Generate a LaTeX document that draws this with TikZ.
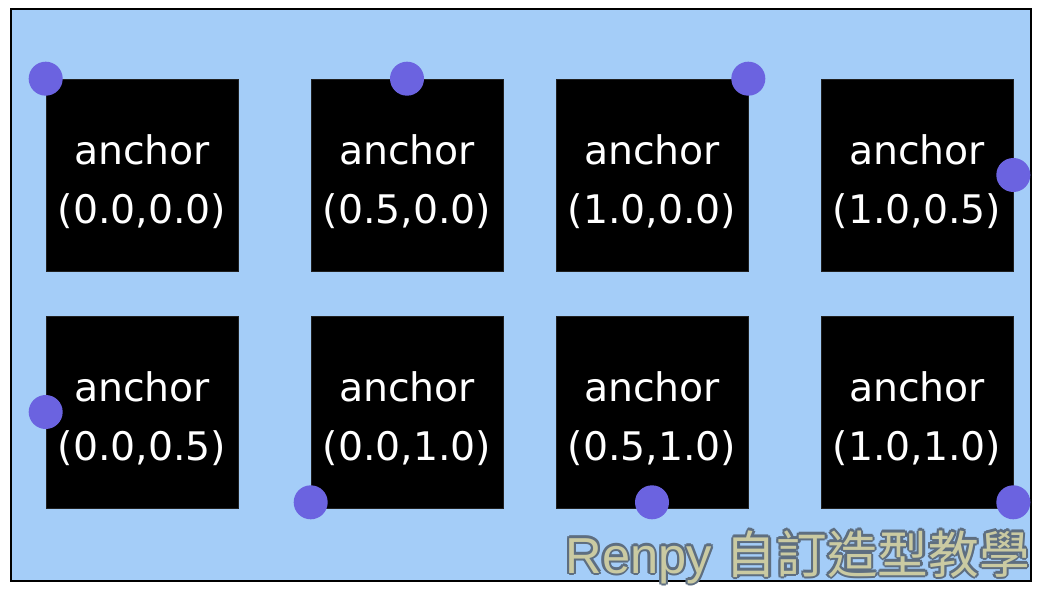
\documentclass[tikz,border=0pt]{standalone}
\usepackage{fontspec}
\usepackage{tikz}
\usepackage{xcolor}
\usetikzlibrary{calc}
\setmainfont{Liberation Sans}
\newfontfamily\boxfont{DejaVu Sans}
\newfontfamily\cjkfont{Noto Sans CJK TC}
\definecolor{bgblue}{HTML}{A4CDF8}
\definecolor{dotpurple}{HTML}{6B63E0}
\definecolor{markfill}{HTML}{CACAA2}
\definecolor{markline}{HTML}{5E6E80}
\newcommand\anctext[1]{\rule{0pt}{1.08cm}anchor\\#1}

\begin{document}
\begin{tikzpicture}[x=0.025cm,y=-0.025cm]
        \tikzstyle{sq}=[fill=black,draw=black!75!gray,minimum size=4.8cm,inner sep=0pt,
                        text=white,align=center,font=\boxfont\fontsize{28}{41.3}\selectfont]
        \tikzstyle{dot}=[fill=dotpurple,circle,minimum size=0.85cm,inner sep=0pt]
        \tikzstyle{wmark}=[anchor=base east,font=\fontsize{36}{40}\selectfont,inner sep=0pt]
        \useasboundingbox (0,0) rectangle (1043,596);
        \draw[fill=bgblue,line width=1.8pt] (11,9) rectangle (1031,581);

        \node[sq] (11) at (142,175) {\anctext{(0.0,0.0)}};
        \node[sq] (12) at (407,175) {\anctext{(0.5,0.0)}};
        \node[sq] (13) at (652,175) {\anctext{(1.0,0.0)}};
        \node[sq] (14) at (917,175) {\anctext{(1.0,0.5)}};
        \node[sq] (15) at (142,412) {\anctext{(0.0,0.5)}};
        \node[sq] (16) at (407,412) {\anctext{(0.0,1.0)}};
        \node[sq] (17) at (652,412) {\anctext{(0.5,1.0)}};
        \node[sq] (18) at (917,412) {\anctext{(1.0,1.0)}};

        \node[dot] (21) at (11.north west) {};
        \node[dot] (22) at (12.north) {};
        \node[dot] (23) at (13.north east) {};
        \node[dot] (24) at (14.east) {};
        \node[dot] (25) at (15.west) {};
        \node[dot] (26) at ($(16.south west)+(0,-6)$) {};
        \node[dot] (27) at ($(17.south)+(0,-6)$) {};
        \node[dot] (28) at ($(18.south east)+(0,-6)$) {};

        % watermark, outline drawn as shifted copies
        \foreach \a in {0,45,...,315}
            \node[wmark,text=markline] at ($(1030,573)+(\a:2.4)$) {Renpy {\cjkfont 自訂造型教學}};
        \node[wmark,text=markfill] (30) at (1030,573) {Renpy {\cjkfont 自訂造型教學}};
    \end{tikzpicture}
\end{document}
